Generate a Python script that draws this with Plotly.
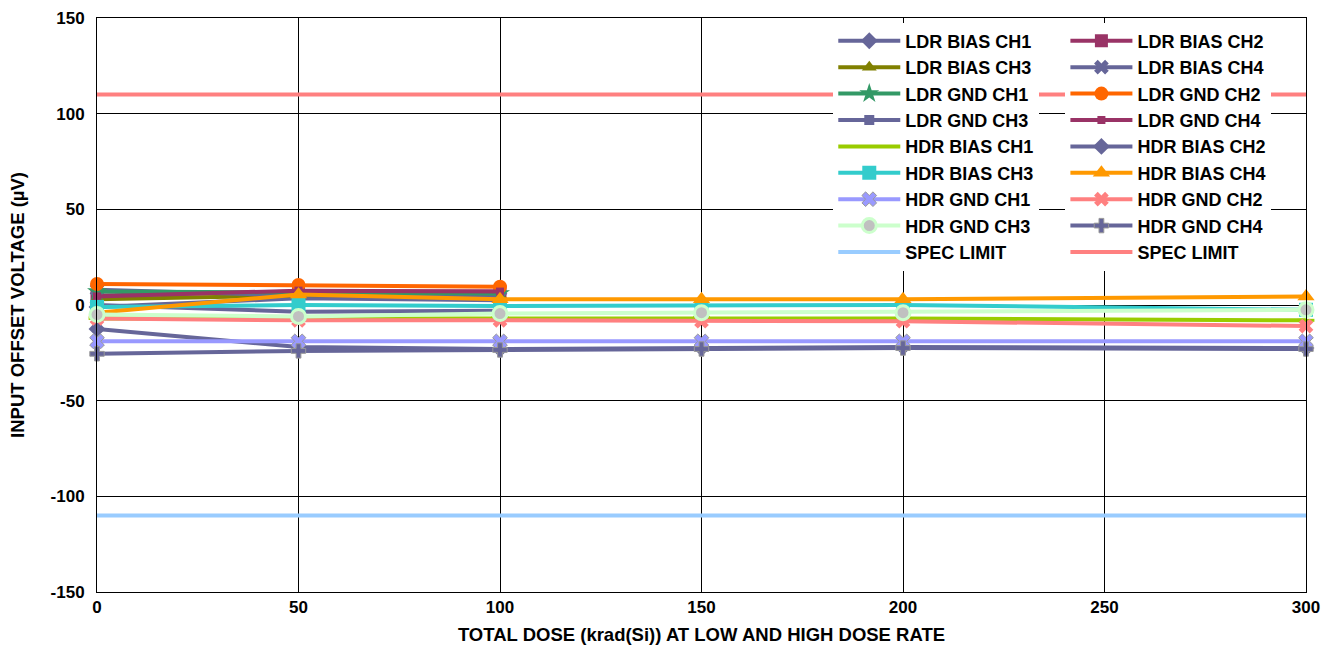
import plotly.graph_objects as go

# ---------------- data ----------------
ldr_dose = [0, 50, 100]
hdr_dose = [0, 50, 100, 150, 200, 300]
spec_dose = [0, 300]

ldr_bias_ch1 = [-1.0, 3.5, 2.5]
ldr_bias_ch2 = [5.0, 7.0, 7.0]
ldr_bias_ch3 = [3.0, 5.0, 5.0]
ldr_bias_ch4 = [8.0, 5.0, 4.0]
ldr_gnd_ch1 = [7.0, 6.5, 6.0]
ldr_gnd_ch2 = [11.0, 10.5, 9.5]
ldr_gnd_ch3 = [0.0, -3.5, -3.0]
ldr_gnd_ch4 = [4.5, 7.5, 7.0]

hdr_bias_ch1 = [-7.0, -7.0, -6.5, -6.5, -7.0, -8.0]
hdr_bias_ch2 = [-12.5, -22.0, -23.0, -22.5, -22.0, -22.5]
hdr_bias_ch3 = [-1.0, 0.0, -0.5, -0.5, 0.0, -2.5]
hdr_bias_ch4 = [-4.0, 5.5, 3.0, 3.0, 3.0, 4.5]
hdr_gnd_ch1 = [-19.0, -19.0, -19.0, -19.0, -19.0, -19.0]
hdr_gnd_ch2 = [-7.0, -8.0, -8.0, -8.5, -8.5, -11.0]
hdr_gnd_ch3 = [-5.0, -6.0, -4.5, -4.0, -4.0, -2.5]
hdr_gnd_ch4 = [-25.5, -24.0, -23.5, -23.0, -22.5, -23.0]

spec_low = [-110, -110]
spec_high = [110, 110]

x_ticks = [0, 50, 100, 150, 200, 250, 300]
y_ticks = [-150, -100, -50, 0, 50, 100, 150]
y_tick_text = ["-150", "-100", "-50", "0", "50", "100", "150"]

# name, x, y, color, symbol, marker size, marker color, marker line color
series = [
    ("LDR BIAS CH1", ldr_dose, ldr_bias_ch1, "#666699", "diamond", 13, None, None),
    ("LDR BIAS CH2", ldr_dose, ldr_bias_ch2, "#993366", "square", 13, None, None),
    ("LDR BIAS CH3", ldr_dose, ldr_bias_ch3, "#808000", "triangle-up", 13, None, None),
    ("LDR BIAS CH4", ldr_dose, ldr_bias_ch4, "#666699", "x", 13, None, None),
    ("LDR GND CH1", ldr_dose, ldr_gnd_ch1, "#339966", "star", 15, None, None),
    ("LDR GND CH2", ldr_dose, ldr_gnd_ch2, "#FF6600", "circle", 14, None, None),
    ("LDR GND CH3", ldr_dose, ldr_gnd_ch3, "#666699", "square", 10, None, None),
    ("LDR GND CH4", ldr_dose, ldr_gnd_ch4, "#993366", "square", 8, None, None),
    ("HDR BIAS CH1", hdr_dose, hdr_bias_ch1, "#99CC00", "line-ew", 12, None, "#99CC00"),
    ("HDR BIAS CH2", hdr_dose, hdr_bias_ch2, "#666699", "diamond", 13, None, None),
    ("HDR BIAS CH3", hdr_dose, hdr_bias_ch3, "#33CCCC", "square", 14, None, None),
    ("HDR BIAS CH4", hdr_dose, hdr_bias_ch4, "#FF9900", "triangle-up", 15, None, None),
    ("HDR GND CH1", hdr_dose, hdr_gnd_ch1, "#9999FF", "x", 13, "#9999FF", "#999999"),
    ("HDR GND CH2", hdr_dose, hdr_gnd_ch2, "#FF8080", "x", 13, None, None),
    ("HDR GND CH3", hdr_dose, hdr_gnd_ch3, "#CCFFCC", "circle", 14, "#C0C0C0", "#CCFFCC"),
    ("HDR GND CH4", hdr_dose, hdr_gnd_ch4, "#666699", "cross", 12, "#666699", "#999999"),
    ("SPEC LIMIT", spec_dose, spec_low, "#99CCFF", None, 0, None, None),
    ("SPEC LIMIT", spec_dose, spec_high, "#FF8080", None, 0, None, None),
]

fig = go.Figure()
for i, (name, xs, ys, color, sym, msize, mcolor, lcolor) in enumerate(series):
    legend_id = "legend" if i % 2 == 0 else "legend2"
    kw = dict(
        x=xs, y=ys, name=name, legend=legend_id, legendgroup="g%d" % i,
        line=dict(color=color, width=4), cliponaxis=False,
    )
    if sym is None:
        kw["mode"] = "lines"
    else:
        kw["mode"] = "lines+markers"
        marker = dict(symbol=sym, size=msize, color=mcolor or color)
        if lcolor:
            marker["line"] = dict(color=lcolor, width=3 if sym in ("circle", "line-ew") else 1)
        else:
            marker["line"] = dict(width=0)
        kw["marker"] = marker
    fig.add_trace(go.Scatter(**kw))

font_family = "Arial, 'Liberation Sans', sans-serif"
legend_common = dict(
    bgcolor="white", borderwidth=0, yanchor="top", xanchor="left",
    font=dict(family=font_family, size=18, color="black", weight="bold"),
    tracegroupgap=0, itemwidth=62,
)
fig.update_layout(
    width=1322, height=645,
    margin=dict(l=97, r=16, t=18, b=53, autoexpand=False),
    paper_bgcolor="white", plot_bgcolor="white",
    font=dict(family=font_family, color="black", weight="bold"),
    legend=dict(x=0.609, y=0.992, **legend_common),
    legend2=dict(x=0.801, y=0.992, **legend_common),
    xaxis=dict(
        range=[0, 300], tickvals=x_ticks, showgrid=True, gridcolor="black", gridwidth=1,
        showline=True, linecolor="black", linewidth=1, mirror=True, zeroline=False,
        tickfont=dict(size=17, weight="bold"), ticks="", automargin=False,
        title=dict(text="TOTAL DOSE (krad(Si)) AT LOW AND HIGH DOSE RATE",
                   font=dict(size=18.5, weight="bold"), standoff=12),
    ),
    yaxis=dict(
        range=[-150, 150], tickvals=y_ticks, ticktext=y_tick_text,
        showgrid=True, gridcolor="black", gridwidth=1,
        showline=True, linecolor="black", linewidth=1, mirror=True, zeroline=False,
        tickfont=dict(size=17, weight="bold"), ticks="", ticklabelstandoff=8,
        automargin=False,
        title=dict(text="INPUT OFFSET VOLTAGE (µV)", font=dict(size=18.5, weight="bold"), standoff=21),
    ),
)

fig.write_html(
    "out.html",
    config={"displayModeBar": False},
    post_script="document.body.style.margin='0';document.body.style.overflow='hidden';",
)
